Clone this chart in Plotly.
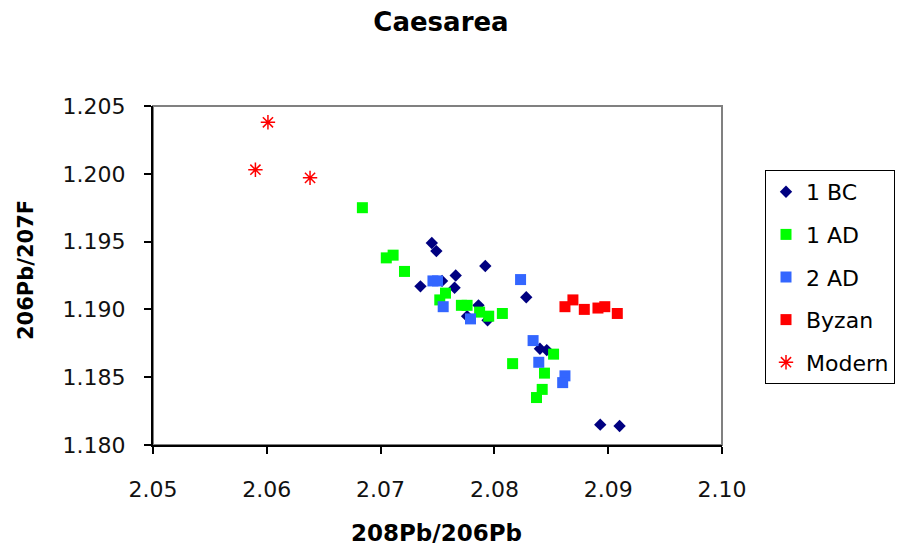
import plotly.graph_objects as go

# 1 BC
bc_x = [2.0745, 2.0749, 2.0792, 2.0766, 2.0735, 2.0754, 2.0765, 2.0786, 2.0776, 2.0794, 2.0828, 2.0840, 2.0846, 2.0893, 2.0910]
bc_y = [1.1949, 1.1943, 1.1932, 1.1925, 1.1917, 1.1921, 1.1916, 1.1903, 1.1895, 1.1892, 1.1909, 1.1871, 1.1870, 1.1815, 1.1814]
# 1 AD
ad1_x = [2.0684, 2.0705, 2.0711, 2.0721, 2.0757, 2.0752, 2.0771, 2.0776, 2.0787, 2.0795, 2.0807, 2.0816, 2.0852, 2.0844, 2.0842, 2.0837]
ad1_y = [1.1975, 1.1938, 1.1940, 1.1928, 1.1912, 1.1907, 1.1903, 1.1903, 1.1898, 1.1895, 1.1897, 1.1860, 1.1867, 1.1853, 1.1841, 1.1835]
# 2 AD
ad2_x = [2.0746, 2.0750, 2.0755, 2.0779, 2.0823, 2.0834, 2.0839, 2.0862, 2.0860]
ad2_y = [1.1921, 1.1921, 1.1902, 1.1893, 1.1922, 1.1877, 1.1861, 1.1851, 1.1846]
# Byzan
byz_x = [2.0862, 2.0869, 2.0879, 2.0891, 2.0897, 2.0908]
byz_y = [1.1902, 1.1907, 1.1900, 1.1901, 1.1902, 1.1897]
# Modern
mod_x = [2.0601, 2.0590, 2.0638]
mod_y = [1.2038, 1.2003, 1.1997]

x_ticks = [2.05, 2.06, 2.07, 2.08, 2.09, 2.10]
y_ticks = [1.180, 1.185, 1.190, 1.195, 1.200, 1.205]

FONT = "DejaVu Sans"
W, H = 897, 549
L, R, T, B = 153, 175, 106, 104

fig = go.Figure()
fig.add_trace(go.Scatter(x=bc_x, y=bc_y, mode="markers", name="1 BC", legendgroup="a",
                         marker=dict(symbol="diamond", size=9.5, color="#000080")))
fig.add_trace(go.Scatter(x=ad1_x, y=ad1_y, mode="markers", name="1 AD", legendgroup="b",
                         marker=dict(symbol="square", size=11, color="#00FF00")))
fig.add_trace(go.Scatter(x=ad2_x, y=ad2_y, mode="markers", name="2 AD", legendgroup="c",
                         marker=dict(symbol="square", size=11, color="#3366FF")))
fig.add_trace(go.Scatter(x=byz_x, y=byz_y, mode="markers", name="Byzan", legendgroup="d",
                         marker=dict(symbol="square", size=11, color="#FF0000")))
fig.add_trace(go.Scatter(x=mod_x, y=mod_y, mode="markers", name="Modern", legendgroup="e",
                         marker=dict(symbol="asterisk-open", size=12,
                                     line=dict(color="#FF0000", width=1.5), color="#FF0000")))

fig.update_layout(
    width=W, height=H,
    margin=dict(l=L, r=R, t=T, b=B),
    paper_bgcolor="white", plot_bgcolor="white",
    font=dict(family=FONT, size=22, color="black"),
    title=dict(text="<b>Caesarea</b>", x=441 / W, xref="container", xanchor="center",
               y=1 - 22 / H, yref="container", yanchor="middle",
               font=dict(family=FONT, size=26, color="black")),
    showlegend=True,
    legend=dict(xref="container", yref="container", x=765 / W, y=1 - 170 / H,
                xanchor="left", yanchor="top", bordercolor="black", borderwidth=1,
                bgcolor="white", font=dict(family=FONT, size=22, color="black"),
                tracegroupgap=11, itemwidth=30),
    xaxis=dict(range=[2.05, 2.10], tickvals=x_ticks, ticktext=[f"{v:.2f}" for v in x_ticks],
               showgrid=False, zeroline=False, showline=True, linecolor="black", linewidth=2,
               ticks="outside", ticklen=7, tickwidth=1.5, tickcolor="black",
               ticklabelstandoff=17, tickfont=dict(family=FONT, size=22, color="#111")),
    yaxis=dict(range=[1.180, 1.205], tickvals=y_ticks, ticktext=[f"{v:.3f}" for v in y_ticks],
               showgrid=False, zeroline=False, showline=True, linecolor="black", linewidth=2,
               ticks="outside", ticklen=7, tickwidth=1.5, tickcolor="black",
               ticklabelstandoff=14, tickfont=dict(family=FONT, size=22, color="#111")),
    shapes=[dict(type="rect", xref="paper", yref="paper", x0=0, x1=1, y0=0, y1=1,
                 line=dict(color="#808080", width=2), layer="below")],
    annotations=[
        dict(text="<b>208Pb/206Pb</b>", xref="paper", yref="paper",
             x=(436 - L) / (W - L - R), y=-(533 - (H - B)) / (H - T - B),
             xanchor="center", yanchor="middle", showarrow=False,
             font=dict(family=FONT, size=23, color="black")),
        dict(text="<b>206Pb/207F</b>", xref="paper", yref="paper",
             x=-(L - 26) / (W - L - R), y=1 - (270 - T) / (H - T - B),
             xanchor="center", yanchor="middle", showarrow=False, textangle=-90,
             font=dict(family=FONT, size=21, color="black")),
    ],
)

fig.write_html("out.html")
